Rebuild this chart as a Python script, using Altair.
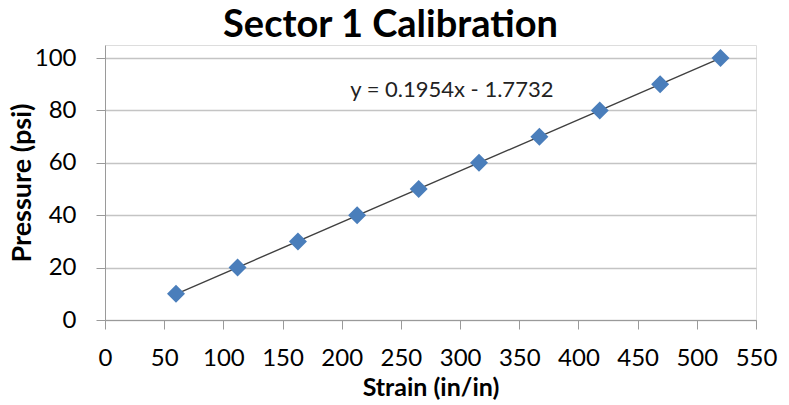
import altair as alt
import pandas as pd

strain = [60, 112, 163, 213, 265, 316, 367, 418, 469, 520]
pressure = [10, 20, 30, 40, 50, 60, 70, 80, 90, 100]
x_ticks = [0, 50, 100, 150, 200, 250, 300, 350, 400, 450, 500, 550]
y_ticks = [0, 20, 40, 60, 80, 100]
equation = ["y = 0.1954x - 1.7732"]
eq_pos_x = [293]
eq_pos_y = [88]

df = pd.DataFrame({"strain": strain, "pressure": pressure})
eq_df = pd.DataFrame({"label": equation, "x": eq_pos_x, "y": eq_pos_y})

FONT = "Lato"

xs = alt.Scale(domain=[0, 550], nice=False, zero=False)
ys = alt.Scale(domain=[0, 105], nice=False, zero=False)

base = alt.Chart(df)

points = base.mark_point(shape="diamond", filled=True, size=324, color="#4A7EBB", opacity=1).encode(
    x=alt.X("strain:Q", scale=xs,
            axis=alt.Axis(values=x_ticks, title="Strain (in/in)", grid=False,
                          labelFontSize=24, titleFontSize=25, titleFontWeight="bold",
                          labelFont=FONT, titleFont=FONT, labelColor="#000", titleColor="#000",
                          domainColor="#9A9A9A", tickColor="#9A9A9A", tickSize=9, labelPadding=17,
                          titlePadding=5, labelFlush=False)),
    y=alt.Y("pressure:Q", scale=ys,
            axis=alt.Axis(values=y_ticks, title="Pressure (psi)", grid=True, gridColor="#C4C4C4",
                          gridWidth=1.5, labelFontSize=24, titleFontSize=27, titleFontWeight="bold",
                          labelFont=FONT, titleFont=FONT, labelColor="#000", titleColor="#000",
                          domainColor="#9A9A9A", tickColor="#9A9A9A", tickSize=9, labelPadding=20,
                          titlePadding=-2)),
)

trend = base.transform_regression("strain", "pressure").mark_line(color="#404040", strokeWidth=1.4).encode(
    x=alt.X("strain:Q", scale=xs),
    y=alt.Y("pressure:Q", scale=ys),
)

eq = alt.Chart(eq_df).mark_text(fontSize=22, font=FONT, color="#222", align="center", baseline="middle").encode(
    x=alt.X("x:Q", scale=xs),
    y=alt.Y("y:Q", scale=ys),
    text="label:N",
)

chart = alt.layer(trend, points, eq).properties(
    width=651,
    height=275,
    title=alt.TitleParams("Sector 1 Calibration", fontSize=38, font=FONT, fontWeight="bold",
                          color="#000", anchor="middle", dx=-40, offset=0),
    autosize=alt.AutoSizeParams(type="none"),
    padding={"left": 105, "top": 45, "right": 33, "bottom": 85},
).configure_view(stroke=None).configure(background="white")

chart.save("out.html", embed_options={"renderer": "svg", "actions": False})
